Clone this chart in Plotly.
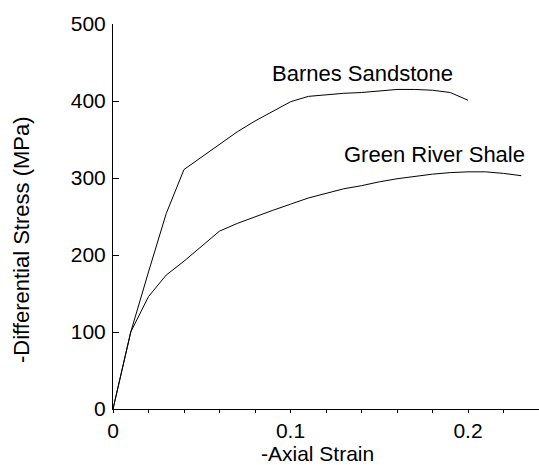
import plotly.graph_objects as go

# Data
barnes_strain = [0, 0.01, 0.02, 0.03, 0.04, 0.05, 0.06, 0.07, 0.08, 0.09, 0.10,
                 0.11, 0.12, 0.13, 0.14, 0.15, 0.16, 0.17, 0.18, 0.19, 0.20]
barnes_stress = [0, 100, 178, 254, 311, 327, 343, 360, 374, 387, 399,
                 406, 408, 410, 411, 413, 415, 415, 414, 411, 401]

green_strain = [0, 0.01, 0.02, 0.03, 0.04, 0.05, 0.06, 0.07, 0.08, 0.09, 0.10,
                0.11, 0.12, 0.13, 0.14, 0.15, 0.16, 0.17, 0.18, 0.19, 0.20,
                0.21, 0.22, 0.23]
green_stress = [0, 100, 146, 174, 192, 212, 231, 241, 250, 258, 266,
                274, 280, 286, 290, 295, 299, 302, 305, 307, 308,
                308, 306, 303]

x_tickvals = [0, 0.02, 0.04, 0.06, 0.08, 0.10, 0.12, 0.14, 0.16, 0.18, 0.20, 0.22, 0.24]
x_ticktext = ["0", "", "", "", "", "0.1", "", "", "", "", "0.2", "", ""]
y_tickvals = [0, 100, 200, 300, 400, 500]

series_labels = ["Barnes Sandstone", "Green River Shale"]
label_pos = [(0.1403, 436), (0.181, 330)]

FONT = "Liberation Sans, Arial, Helvetica, sans-serif"
FS_TICK = 21
FS_TEXT = 22

W, H = 539, 465
L, R, T, B = 113, 0, 24, 56

def px_to_paper(px, py):
    return (px - L) / (W - L - R), 1 - (py - T) / (H - T - B)

fig = go.Figure()
fig.add_trace(go.Scatter(x=barnes_strain, y=barnes_stress, mode="lines",
                         line=dict(color="black", width=1), showlegend=False))
fig.add_trace(go.Scatter(x=green_strain, y=green_stress, mode="lines",
                         line=dict(color="black", width=1), showlegend=False))

for txt, (lx, ly) in zip(series_labels, label_pos):
    fig.add_annotation(x=lx, y=ly, xref="x", yref="y", text=txt, showarrow=False,
                       font=dict(family=FONT, size=FS_TEXT, color="black"))

yx, yy = px_to_paper(21, 240)
fig.add_annotation(x=yx, y=yy, xref="paper", yref="paper", text="-Differential Stress (MPa)",
                   showarrow=False, textangle=-90, xanchor="center", yanchor="middle",
                   font=dict(family=FONT, size=FS_TEXT, color="black"))
xx, xy = px_to_paper(317, 453)
fig.add_annotation(x=xx, y=xy, xref="paper", yref="paper", text="-Axial Strain",
                   showarrow=False, xanchor="center", yanchor="middle",
                   font=dict(family=FONT, size=21, color="black"))

fig.update_layout(
    width=W, height=H,
    margin=dict(l=L, r=R, t=T, b=B),
    paper_bgcolor="white", plot_bgcolor="white",
    font=dict(family=FONT, size=FS_TICK, color="black"),
    xaxis=dict(range=[0, 0.24], tickmode="array", tickvals=x_tickvals, ticktext=x_ticktext,
               ticks="outside", ticklen=3, tickwidth=1, tickcolor="black",
               showline=True, linecolor="black", linewidth=1, showgrid=False, zeroline=False,
               ticklabelstandoff=0),
    yaxis=dict(range=[0, 500], tickmode="array", tickvals=y_tickvals,
               ticks="inside", ticklen=6, tickwidth=1, tickcolor="black",
               showline=True, linecolor="black", linewidth=1, showgrid=False, zeroline=False,
               ticklabelstandoff=2),
)

fig.write_html("out.html", config={"displayModeBar": False},
               post_script="document.body.style.margin='0';document.body.style.padding='0';")
